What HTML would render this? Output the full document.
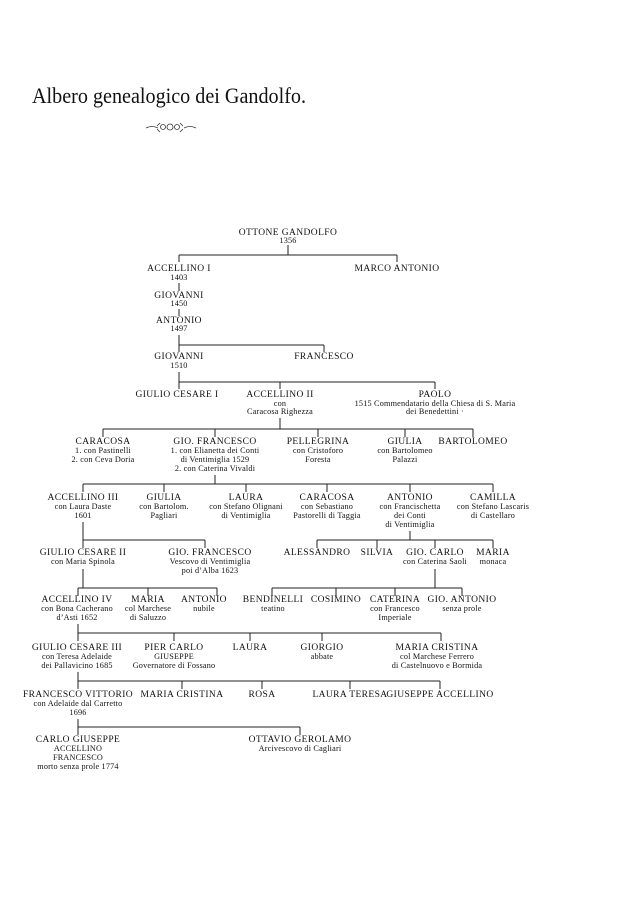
<!DOCTYPE html>
<html><head><meta charset="utf-8"><style>
html,body{margin:0;padding:0;background:#fff;}
svg{display:block}
text{font-family:"Liberation Serif",serif;fill:#111;text-anchor:middle}
.n{font-size:9.5px;letter-spacing:0.4px}
.s{font-size:8.2px;letter-spacing:0.2px}
line{stroke:#222;stroke-width:1}
</style></head><body>
<svg width="618" height="900" viewBox="0 0 618 900" xmlns="http://www.w3.org/2000/svg">
<text x="32" y="103" textLength="274" lengthAdjust="spacingAndGlyphs" style="font-size:22px;text-anchor:start;letter-spacing:0">Albero genealogico dei Gandolfo.</text>
<g stroke="#333" fill="none" stroke-width="0.8">
<path d="M146 128 q6 -3 12 0 M184 128 q6 -3 12 0"/>
<circle cx="163" cy="127" r="2.5"/><circle cx="170" cy="127" r="3"/><circle cx="177" cy="127" r="2.5"/>
<path d="M157 126 l3 -3 M183 126 l-3 -3 M157 129 l3 3 M183 129 l-3 3"/>
</g>
<g>
<line x1="288" y1="245" x2="288" y2="255"/>
<line x1="179" y1="255" x2="397" y2="255"/>
<line x1="179" y1="255" x2="179" y2="262"/><line x1="397" y1="255" x2="397" y2="262"/>
<line x1="179" y1="283" x2="179" y2="291"/>
<line x1="179" y1="309" x2="179" y2="316"/>
<line x1="179" y1="335" x2="179" y2="352"/>
<line x1="179" y1="345" x2="324" y2="345"/><line x1="324" y1="345" x2="324" y2="352"/>
<line x1="179" y1="372" x2="179" y2="389"/>
<line x1="179" y1="382" x2="435" y2="382"/>
<line x1="280" y1="382" x2="280" y2="389"/><line x1="435" y1="382" x2="435" y2="389"/>
<line x1="280" y1="418" x2="280" y2="429"/>
<line x1="103" y1="429" x2="473" y2="429"/>
<line x1="103" y1="429" x2="103" y2="437"/><line x1="215" y1="429" x2="215" y2="437"/><line x1="318" y1="429" x2="318" y2="437"/><line x1="405" y1="429" x2="405" y2="437"/><line x1="473" y1="429" x2="473" y2="437"/>
<line x1="215" y1="475" x2="215" y2="484"/>
<line x1="83" y1="484" x2="493" y2="484"/>
<line x1="83" y1="484" x2="83" y2="492"/><line x1="164" y1="484" x2="164" y2="492"/><line x1="246" y1="484" x2="246" y2="492"/><line x1="327" y1="484" x2="327" y2="492"/><line x1="410" y1="484" x2="410" y2="492"/><line x1="493" y1="484" x2="493" y2="492"/>
<line x1="83" y1="522" x2="83" y2="548"/>
<line x1="83" y1="540" x2="205" y2="540"/><line x1="205" y1="540" x2="205" y2="548"/>
<line x1="410" y1="531" x2="410" y2="540"/>
<line x1="317" y1="540" x2="493" y2="540"/>
<line x1="317" y1="540" x2="317" y2="548"/><line x1="377" y1="540" x2="377" y2="548"/><line x1="435" y1="540" x2="435" y2="548"/><line x1="493" y1="540" x2="493" y2="548"/>
<line x1="83" y1="569" x2="83" y2="588"/>
<line x1="78" y1="588" x2="217" y2="588"/>
<line x1="78" y1="588" x2="78" y2="596"/><line x1="148" y1="588" x2="148" y2="596"/><line x1="217" y1="588" x2="217" y2="596"/>
<line x1="435" y1="569" x2="435" y2="588"/>
<line x1="272" y1="588" x2="462" y2="588"/>
<line x1="272" y1="588" x2="272" y2="596"/><line x1="336" y1="588" x2="336" y2="596"/><line x1="395" y1="588" x2="395" y2="596"/><line x1="462" y1="588" x2="462" y2="596"/>
<line x1="78" y1="624" x2="78" y2="641"/>
<line x1="78" y1="633" x2="441" y2="633"/>
<line x1="174" y1="633" x2="174" y2="641"/><line x1="250" y1="633" x2="250" y2="641"/><line x1="322" y1="633" x2="322" y2="641"/><line x1="441" y1="633" x2="441" y2="641"/>
<line x1="78" y1="672" x2="78" y2="689"/>
<line x1="78" y1="681" x2="440" y2="681"/>
<line x1="182" y1="681" x2="182" y2="689"/><line x1="262" y1="681" x2="262" y2="689"/><line x1="350" y1="681" x2="350" y2="689"/><line x1="440" y1="681" x2="440" y2="689"/>
<line x1="78" y1="719" x2="78" y2="735"/>
<line x1="78" y1="727" x2="300" y2="727"/><line x1="300" y1="727" x2="300" y2="735"/>
</g>
<text class="n" x="288" y="235">OTTONE GANDOLFO</text><text class="s" x="288" y="243">1356</text>
<text class="n" x="179" y="271">ACCELLINO I</text><text class="s" x="179" y="280">1403</text>
<text class="n" x="397" y="271">MARCO ANTONIO</text>
<text class="n" x="179" y="298">GIOVANNI</text><text class="s" x="179" y="306">1450</text>
<text class="n" x="179" y="323">ANTONIO</text><text class="s" x="179" y="331">1497</text>
<text class="n" x="179" y="359">GIOVANNI</text><text class="s" x="179" y="368">1510</text>
<text class="n" x="324" y="359">FRANCESCO</text>
<text class="n" x="177" y="397">GIULIO CESARE I</text>
<text class="n" x="280" y="397">ACCELLINO II</text><text class="s" x="280" y="406">con</text><text class="s" x="280" y="414">Caracosa Righezza</text>
<text class="n" x="435" y="397">PAOLO</text><text class="s" x="435" y="406">1515 Commendatario della Chiesa di S. Maria</text><text class="s" x="435" y="414">dei Benedettini ·</text>

<text class="n" x="103" y="444">CARACOSA</text><text class="s" x="103" y="453">1. con Pastinelli</text><text class="s" x="103" y="462">2. con Ceva Doria</text>
<text class="n" x="215" y="444">GIO. FRANCESCO</text><text class="s" x="215" y="453">1. con Elianetta dei Conti</text><text class="s" x="215" y="462">di Ventimiglia 1529</text><text class="s" x="215" y="471">2. con Caterina Vivaldi</text>
<text class="n" x="318" y="444">PELLEGRINA</text><text class="s" x="318" y="453">con Cristoforo</text><text class="s" x="318" y="462">Foresta</text>
<text class="n" x="405" y="444">GIULIA</text><text class="s" x="405" y="453">con Bartolomeo</text><text class="s" x="405" y="462">Palazzi</text>
<text class="n" x="473" y="444">BARTOLOMEO</text>

<text class="n" x="83" y="500">ACCELLINO III</text><text class="s" x="83" y="509">con  Laura Daste</text><text class="s" x="83" y="518">1601</text>
<text class="n" x="164" y="500">GIULIA</text><text class="s" x="164" y="509">con Bartolom.</text><text class="s" x="164" y="518">Pagliari</text>
<text class="n" x="246" y="500">LAURA</text><text class="s" x="246" y="509">con Stefano Olignani</text><text class="s" x="246" y="518">di Ventimiglia</text>
<text class="n" x="327" y="500">CARACOSA</text><text class="s" x="327" y="509">con Sebastiano</text><text class="s" x="327" y="518">Pastorelli di Taggia</text>
<text class="n" x="410" y="500">ANTONIO</text><text class="s" x="410" y="509">con Francischetta</text><text class="s" x="410" y="518">dei Conti</text><text class="s" x="410" y="527">di Ventimiglia</text>
<text class="n" x="493" y="500">CAMILLA</text><text class="s" x="493" y="509">con Stefano Lascaris</text><text class="s" x="493" y="518">di Castellaro</text>

<text class="n" x="83" y="555">GIULIO CESARE II</text><text class="s" x="83" y="564">con Maria Spinola</text>
<text class="n" x="210" y="555">GIO. FRANCESCO</text><text class="s" x="210" y="564">Vescovo di Ventimiglia</text><text class="s" x="210" y="573">poi d’Alba 1623</text>
<text class="n" x="317" y="555">ALESSANDRO</text>
<text class="n" x="377" y="555">SILVIA</text>
<text class="n" x="435" y="555">GIO. CARLO</text><text class="s" x="435" y="564">con Caterina Saoli</text>
<text class="n" x="493" y="555">MARIA</text><text class="s" x="493" y="564">monaca</text>

<text class="n" x="77" y="602">ACCELLINO IV</text><text class="s" x="77" y="611">con Bona Cacherano</text><text class="s" x="77" y="620">d’Asti 1652</text>
<text class="n" x="148" y="602">MARIA</text><text class="s" x="148" y="611">col Marchese</text><text class="s" x="148" y="620">di Saluzzo</text>
<text class="n" x="204" y="602">ANTONIO</text><text class="s" x="204" y="611">nubile</text>
<text class="n" x="273" y="602">BENDINELLI</text><text class="s" x="273" y="611">teatino</text>
<text class="n" x="336" y="602">COSIMINO</text>
<text class="n" x="395" y="602">CATERINA</text><text class="s" x="395" y="611">con Francesco</text><text class="s" x="395" y="620">Imperiale</text>
<text class="n" x="462" y="602">GIO. ANTONIO</text><text class="s" x="462" y="611">senza prole</text>

<text class="n" x="77" y="650">GIULIO CESARE III</text><text class="s" x="77" y="659">con Teresa Adelaide</text><text class="s" x="77" y="668">dei Pallavicino 1685</text>
<text class="n" x="174" y="650">PIER CARLO</text><text class="s" x="174" y="659">GIUSEPPE</text><text class="s" x="174" y="668">Governatore di Fossano</text>
<text class="n" x="250" y="650">LAURA</text>
<text class="n" x="322" y="650">GIORGIO</text><text class="s" x="322" y="659">abbate</text>
<text class="n" x="437" y="650">MARIA CRISTINA</text><text class="s" x="437" y="659">col Marchese Ferrero</text><text class="s" x="437" y="668">di Castelnuovo e Bormida</text>

<text class="n" x="78" y="697">FRANCESCO VITTORIO</text><text class="s" x="78" y="706">con Adelaide dal Carretto</text><text class="s" x="78" y="715">1696</text>
<text class="n" x="182" y="697">MARIA CRISTINA</text>
<text class="n" x="262" y="697">ROSA</text>
<text class="n" x="350" y="697">LAURA TERESA</text>
<text class="n" x="440" y="697">GIUSEPPE ACCELLINO</text>

<text class="n" x="78" y="742">CARLO GIUSEPPE</text><text class="s" x="78" y="751">ACCELLINO</text><text class="s" x="78" y="760">FRANCESCO</text><text class="s" x="78" y="769">morto senza prole 1774</text>
<text class="n" x="300" y="742">OTTAVIO GEROLAMO</text><text class="s" x="300" y="751">Arcivescovo di Cagliari</text>
</svg>
</body></html>
